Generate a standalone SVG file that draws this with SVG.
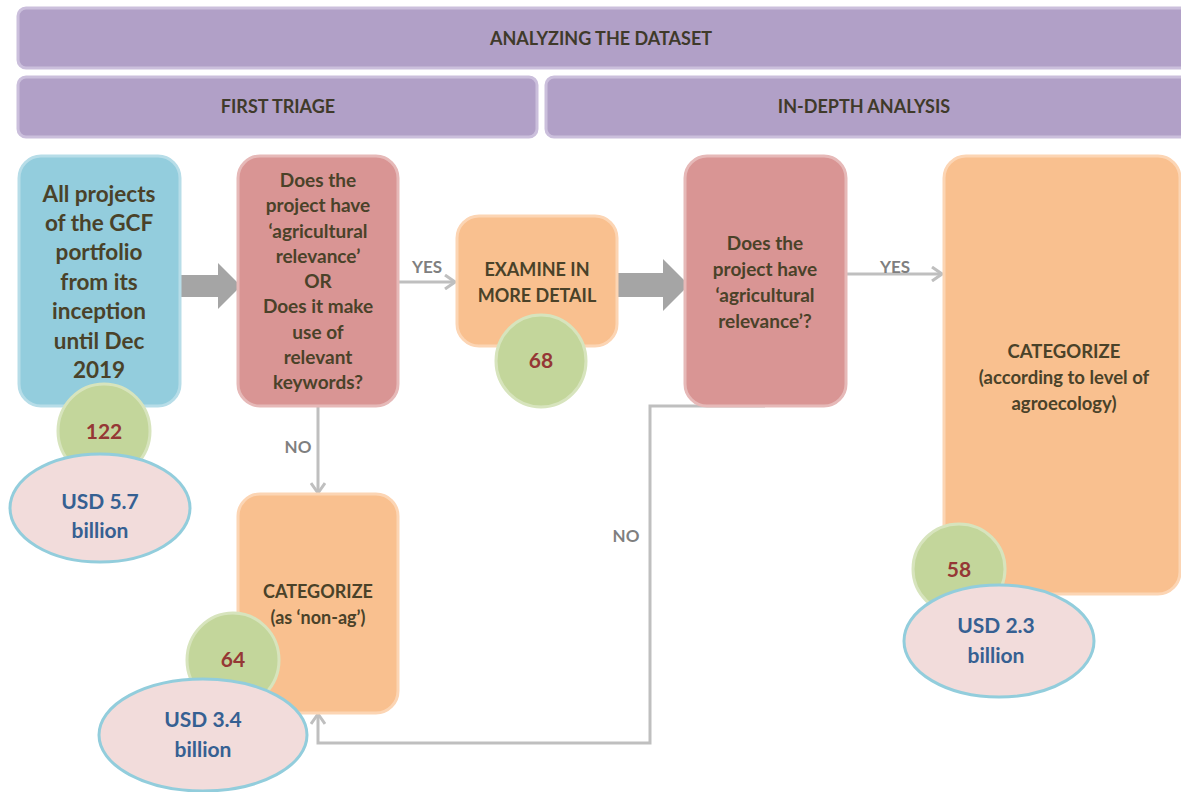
<svg xmlns="http://www.w3.org/2000/svg" width="1181" height="792" viewBox="0 0 1181 792">
<style>
text{font-family:Lato,"Liberation Sans",sans-serif;font-weight:bold;text-anchor:middle}
.band{fill:#b1a0c7;stroke:#cbbfdc;stroke-width:3}
.bandt{fill:#3f3a2a;font-size:18px}
.blue{fill:#93cddd;stroke:#b7dde8;stroke-width:3}
.red{fill:#d99594;stroke:#e6b9b8;stroke-width:3}
.orange{fill:#f9c08f;stroke:#fcd5b4;stroke-width:3}
.green{fill:#c3d69b;stroke:#d7e4bd;stroke-width:3}
.pink{fill:#f2dcdb;stroke:#92cddc;stroke-width:3}
.dark{fill:#4a4229}
.num{fill:#953735;font-size:21px}
.usd{fill:#366092;font-size:21px}
.lbl{fill:#7f7f7f;font-size:17px}
.ln{fill:none;stroke:#bfbfbf;stroke-width:3}
.blk{fill:#a5a5a5}
</style>
<defs>
<marker id="chev" viewBox="0 0 12 16" refX="11" refY="8" markerWidth="12" markerHeight="16" markerUnits="userSpaceOnUse" orient="auto">
<path d="M1,1 L11,8 L1,15" fill="none" stroke="#bfbfbf" stroke-width="3"/>
</marker>
</defs>
<rect width="1181" height="792" fill="#ffffff"/>
<g id="header">
<rect class="band" x="18" y="8" width="1170" height="60" rx="8"/>
<text class="bandt" x="601" y="45">ANALYZING THE DATASET</text>
</g>
<g id="first-triage">
<rect class="band" x="18" y="77" width="519" height="60" rx="8"/>
<text class="bandt" x="278" y="113">FIRST TRIAGE</text>
</g>
<g id="in-depth">
<rect class="band" x="546" y="77" width="642" height="60" rx="8"/>
<text class="bandt" x="864" y="113">IN-DEPTH ANALYSIS</text>
</g>
<g id="connectors">
<polygon class="blk" points="178,275 218,275 218,263 241,286 218,309 218,297 178,297"/>
<polygon class="blk" points="614,273 663,273 663,259 689,285 663,311 663,297 614,297"/>
<line class="ln" x1="398" y1="282" x2="455" y2="282" marker-end="url(#chev)"/>
<text class="lbl" x="427" y="273">YES</text>
<line class="ln" x1="318" y1="406" x2="318" y2="493" marker-end="url(#chev)"/>
<text class="lbl" x="298" y="453">NO</text>
<line class="ln" x1="846" y1="274" x2="942" y2="274" marker-end="url(#chev)"/>
<text class="lbl" x="895" y="273">YES</text>
<polyline class="ln" points="765,406 650,406 650,743 318,743 318,714" marker-end="url(#chev)"/>
<text class="lbl" x="626" y="542">NO</text>
</g>
<g id="all-projects">
<rect class="blue" x="19" y="156" width="161" height="250" rx="22"/>
<text class="dark" font-size="22.5" x="99" y="202">All projects</text>
<text class="dark" font-size="22.5" x="99" y="231">of the GCF</text>
<text class="dark" font-size="22.5" x="99" y="260">portfolio</text>
<text class="dark" font-size="22.5" x="99" y="290">from its</text>
<text class="dark" font-size="22.5" x="99" y="319">inception</text>
<text class="dark" font-size="22.5" x="99" y="349">until Dec</text>
<text class="dark" font-size="22.5" x="99" y="378">2019</text>
</g>
<g id="count-122">
<ellipse class="green" cx="104" cy="431" rx="46" ry="47"/>
<text class="num" x="104" y="439">122</text>
</g>
<g id="usd-57">
<ellipse class="pink" cx="100" cy="508" rx="90" ry="54"/>
<text class="usd" x="100" y="509">USD 5.7</text>
<text class="usd" x="100" y="538">billion</text>
</g>
<g id="question-1">
<rect class="red" x="238" y="156" width="160" height="250" rx="22"/>
<text class="dark" font-size="19" x="318" y="187">Does the</text>
<text class="dark" font-size="19" x="318" y="212">project have</text>
<text class="dark" font-size="19" x="318" y="238">‘agricultural</text>
<text class="dark" font-size="19" x="318" y="263">relevance’</text>
<text class="dark" font-size="19" x="318" y="288">OR</text>
<text class="dark" font-size="19" x="318" y="313">Does it make</text>
<text class="dark" font-size="19" x="318" y="339">use of</text>
<text class="dark" font-size="19" x="318" y="364">relevant</text>
<text class="dark" font-size="19" x="318" y="389">keywords?</text>
</g>
<g id="examine">
<rect class="orange" x="457" y="216" width="160" height="130" rx="22"/>
<text class="dark" font-size="18" x="537" y="276">EXAMINE IN</text>
<text class="dark" font-size="18" x="537" y="302">MORE DETAIL</text>
</g>
<g id="count-68">
<ellipse class="green" cx="541" cy="361" rx="45" ry="46"/>
<text class="num" x="541" y="368">68</text>
</g>
<g id="question-2">
<rect class="red" x="685" y="156" width="161" height="250" rx="22"/>
<text class="dark" font-size="19" x="765" y="250">Does the</text>
<text class="dark" font-size="19" x="765" y="276">project have</text>
<text class="dark" font-size="19" x="765" y="302">‘agricultural</text>
<text class="dark" font-size="19" x="765" y="328">relevance’?</text>
</g>
<g id="categorize-agro">
<rect class="orange" x="944" y="156" width="236" height="438" rx="22"/>
<text class="dark" font-size="18.5" x="1064" y="358">CATEGORIZE</text>
<text class="dark" font-size="18.5" x="1064" y="384">(according to level of</text>
<text class="dark" font-size="18.5" x="1064" y="410">agroecology)</text>
</g>
<g id="count-58">
<ellipse class="green" cx="959" cy="569" rx="46" ry="45"/>
<text class="num" x="959" y="577">58</text>
</g>
<g id="usd-23">
<ellipse class="pink" cx="999" cy="641" rx="95" ry="56"/>
<text class="usd" x="996" y="633">USD 2.3</text>
<text class="usd" x="996" y="663">billion</text>
</g>
<g id="categorize-nonag">
<rect class="orange" x="238" y="494" width="160" height="219" rx="22"/>
<text class="dark" font-size="18" x="318" y="598">CATEGORIZE</text>
<text class="dark" font-size="18" x="318" y="624">(as ‘non-ag’)</text>
</g>
<g id="count-64">
<ellipse class="green" cx="233" cy="660" rx="46" ry="47"/>
<text class="num" x="233" y="667">64</text>
</g>
<g id="usd-34">
<ellipse class="pink" cx="203" cy="735" rx="104" ry="56"/>
<text class="usd" x="203" y="727">USD 3.4</text>
<text class="usd" x="203" y="757">billion</text>
</g>
</svg>
